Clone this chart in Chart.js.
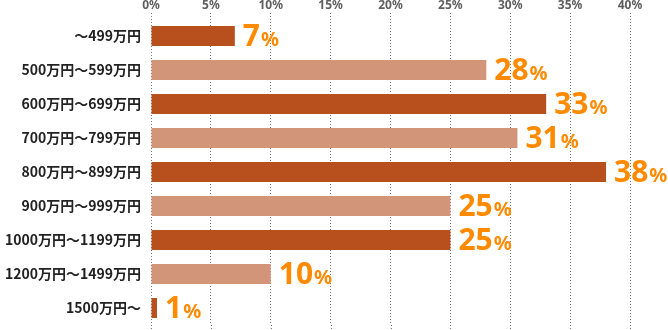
<!DOCTYPE html>
<html>
<head>
<meta charset="utf-8">
<script src="https://cdn.jsdelivr.net/npm/chart.js@4/dist/chart.umd.min.js"></script>
<style>
  body { margin: 0; background: #fff; }
  #wrap { width: 668px; height: 330px; position: relative; }
</style>
</head>
<body>
<div id="wrap"><canvas id="incomeChart"></canvas></div>
<script>
// Data
var incomeBands = ['～499万円', '500万円～599万円', '600万円～699万円', '700万円～799万円', '800万円～899万円',
                   '900万円～999万円', '1000万円～1199万円', '1200万円～1499万円', '1500万円～'];
var shares = [7, 28, 33, 30.6, 38, 25, 25, 10, 0.5];
var tickSteps = [0, 5, 10, 15, 20, 25, 30, 35, 40];

var darkBar = '#B8501E';
var lightBar = '#D3957A';
var labelColor = '#FF8A00';
var gridColor = '#777';

// alternate bar colours
var barColors = incomeBands.map(function(b, i) {
    return i % 2 === 0 ? darkBar : lightBar;
});

// Draws the big orange "NN%" after each bar
var valueLabels = {
    id: 'valueLabels',
    beforeDatasetsDraw: function(chart) {
        // let the dotted grid run on to the bottom edge
        var ctx = chart.ctx;
        var xScale = chart.scales.x;
        ctx.save();
        ctx.strokeStyle = gridColor;
        ctx.lineWidth = 1;
        ctx.setLineDash([1, 2]);
        tickSteps.forEach(function(v) {
            var px = Math.round(xScale.getPixelForValue(v)) + 0.5;
            ctx.beginPath();
            ctx.moveTo(px, chart.chartArea.bottom);
            ctx.lineTo(px, chart.height);
            ctx.stroke();
        });
        ctx.restore();
    },
    afterDatasetsDraw: function(chart) {
        var ctx = chart.ctx;
        var meta = chart.getDatasetMeta(0);
        meta.data.forEach(function(bar, i) {
            var num = String(Math.round(shares[i]));
            var x = bar.x + 8;
            var y = bar.y + bar.height / 2;
            ctx.save();
            ctx.fillStyle = labelColor;
            ctx.textBaseline = 'alphabetic';
            ctx.textAlign = 'left';
            ctx.font = 'bold 30px "Noto Sans"';
            ctx.fillText(num, x, y);
            var w = ctx.measureText(num).width;
            ctx.font = 'bold 20px "Noto Sans"';
            ctx.fillText('%', x + w + 1, y);
            ctx.restore();
        });
    }
};

var ctx = document.getElementById('incomeChart').getContext('2d');
new Chart(ctx, {
    type: 'bar',
    data: {
        labels: incomeBands,
        datasets: [{
            data: shares,
            backgroundColor: barColors,
            borderWidth: 0,
            barPercentage: 0.59,
            categoryPercentage: 1.0
        }]
    },
    options: {
        indexAxis: 'y',
        responsive: true,
        maintainAspectRatio: false,
        animation: false,
        layout: { padding: { top: 0, right: 38, bottom: 5, left: 0 } },
        plugins: {
            legend: { display: false },
            tooltip: { enabled: false }
        },
        scales: {
            x: {
                position: 'top',
                min: tickSteps[0],
                max: tickSteps[tickSteps.length - 1],
                afterBuildTicks: function(scale) {
                    scale.ticks = tickSteps.map(function(v) { return { value: v }; });
                },
                afterFit: function(scale) { scale.height = 19; },
                grid: {
                    color: gridColor,
                    lineWidth: 1,
                    drawTicks: true,
                    tickLength: 6,
                    tickBorderDash: [1, 2]
                },
                border: { display: false, dash: [1, 2] },
                ticks: {
                    padding: 0,
                    color: '#5f5f5f',
                    font: { family: 'Noto Sans', size: 12, weight: 'bold' },
                    callback: function(v) { return v + '%'; }
                }
            },
            y: {
                afterFit: function(scale) {
                    scale.width = 151;
                    // no extra room for half label heights
                    scale.paddingTop = 0;
                    scale.paddingBottom = 0;
                },
                grid: { display: false, drawTicks: false },
                border: { display: false },
                ticks: {
                    padding: 10,
                    color: '#222',
                    font: { family: 'Noto Sans CJK JP', size: 14, weight: 'bold' }
                }
            }
        }
    },
    plugins: [valueLabels]
});
</script>
</body>
</html>
